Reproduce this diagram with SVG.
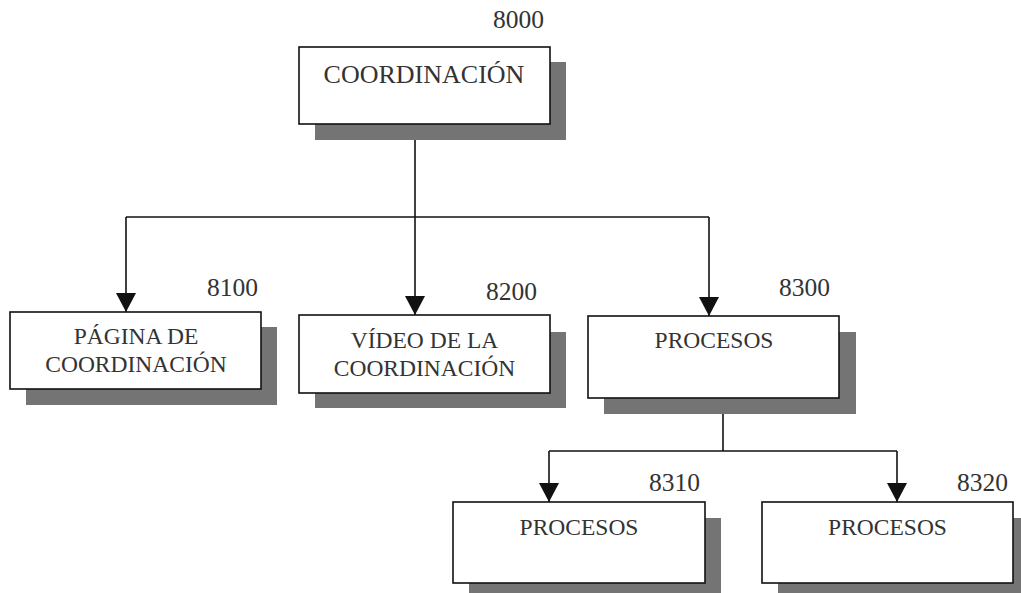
<svg xmlns="http://www.w3.org/2000/svg" width="1021" height="593" viewBox="0 0 1021 593">
<defs>
<style>
.box{fill:#fff;stroke:#111;stroke-width:1.6}
.sh{fill:#747474}
.t{font-family:"Liberation Serif","Times New Roman",serif;fill:#333;text-anchor:middle}
.lbl{font-family:"Liberation Serif","Times New Roman",serif;fill:#333;font-size:25.5px;text-anchor:end}
.c{fill:none;stroke:#111;stroke-width:1.6}
</style>
<marker id="ah" markerUnits="userSpaceOnUse" markerWidth="20" markerHeight="20" refX="19" refY="10" orient="auto" viewBox="0 0 20 20">
<path d="M0,0 L19,10 L0,20 Z" fill="#111"/>
</marker>
</defs>
<rect width="1021" height="593" fill="#fff"/>

<g id="connectors">
<path class="c" d="M415,140 V217"/>
<path class="c" d="M126,217 H709"/>
<path class="c" d="M126,217 V312" marker-end="url(#ah)"/>
<path class="c" d="M415,217 V315" marker-end="url(#ah)"/>
<path class="c" d="M709,217 V316" marker-end="url(#ah)"/>
<path class="c" d="M723,414 V451"/>
<path class="c" d="M549,451 H897"/>
<path class="c" d="M549,451 V502" marker-end="url(#ah)"/>
<path class="c" d="M897,451 V502" marker-end="url(#ah)"/>
</g>

<g id="n8000">
<rect class="sh" x="315" y="62" width="251" height="78"/>
<rect class="box" x="299" y="47" width="251" height="77"/>
<text class="t" x="424" y="83" font-size="26">COORDINACIÓN</text>
<text class="lbl" x="544" y="28">8000</text>
</g>

<g id="n8100">
<rect class="sh" x="26" y="327" width="251" height="78"/>
<rect class="box" x="10" y="312" width="251" height="77"/>
<text class="t" x="136" y="344" font-size="23.5">PÁGINA DE</text>
<text class="t" x="136" y="372" font-size="23.5">COORDINACIÓN</text>
<text class="lbl" x="258" y="296">8100</text>
</g>

<g id="n8200">
<rect class="sh" x="315" y="332" width="251" height="76"/>
<rect class="box" x="299" y="315" width="251" height="78"/>
<text class="t" x="424.5" y="348" font-size="23.5">VÍDEO DE LA</text>
<text class="t" x="424.5" y="376" font-size="23.5">COORDINACIÓN</text>
<text class="lbl" x="537" y="300">8200</text>
</g>

<g id="n8300">
<rect class="sh" x="604" y="332" width="252" height="82"/>
<rect class="box" x="588" y="316" width="251" height="82"/>
<text class="t" x="714" y="348" font-size="23.5">PROCESOS</text>
<text class="lbl" x="830" y="296">8300</text>
</g>

<g id="n8310">
<rect class="sh" x="469" y="518" width="252" height="82"/>
<rect class="box" x="453" y="502" width="252" height="81"/>
<text class="t" x="579" y="535" font-size="23.5">PROCESOS</text>
<text class="lbl" x="700" y="491">8310</text>
</g>

<g id="n8320">
<rect class="sh" x="778" y="518" width="252" height="82"/>
<rect class="box" x="762" y="502" width="251" height="81"/>
<text class="t" x="887.5" y="535" font-size="23.5">PROCESOS</text>
<text class="lbl" x="1008" y="491">8320</text>
</g>
</svg>
